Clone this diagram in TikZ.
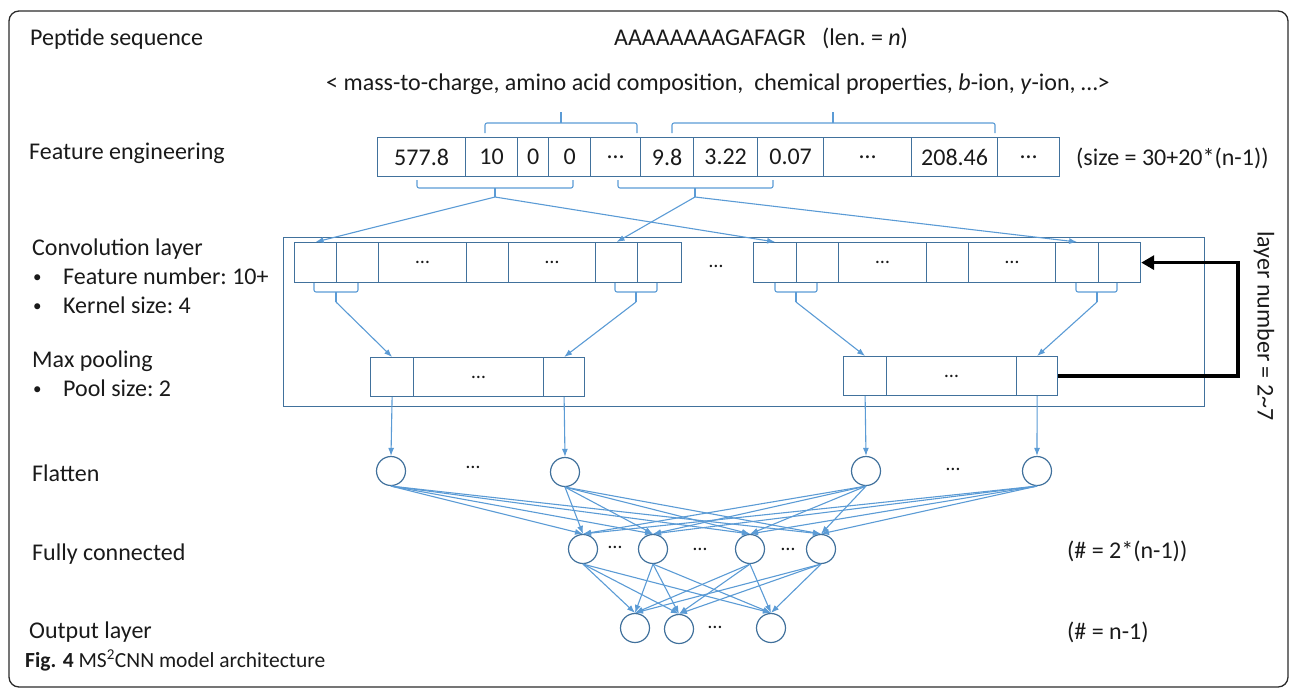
\documentclass[tikz,border=0pt]{standalone}
\usepackage{fontspec}
\setmainfont{Carlito}
\usetikzlibrary{arrows.meta}
\definecolor{boxblue}{HTML}{41719C}
\definecolor{lineblue}{HTML}{5B9BD5}
\definecolor{txt}{HTML}{1A1A1A}
\definecolor{frame}{HTML}{2B2B2B}
\newcommand\fsz{\fontsize{24}{28}\selectfont\frenchspacing}
\begin{document}
\begin{tikzpicture}[x=1pt,y=-1pt,
  lbl/.style={anchor=base west, inner sep=0, font=\fsz, text=txt},
  bul/.style={anchor=base west, inner sep=0, font=\fontsize{17}{20}\selectfont, text=txt},
  cell/.style={draw=boxblue, line width=1.2pt, inner sep=0, anchor=north west, font=\fsz, text=txt},
  dotcell/.style={cell, font=\fontsize{20}{24}\selectfont},
  conn/.style={draw=lineblue, line width=1.1pt, -{Latex[length=8pt,width=6pt]}},
  brace/.style={draw=lineblue, line width=1.1pt, rounded corners=2pt},
  neuron/.style={circle, draw=boxblue, line width=1.2pt, minimum size=29pt, inner sep=0},
  dots/.style={inner sep=0, font=\fontsize{20}{24}\selectfont, text=txt},
  fb/.style={draw=black, line width=3.5pt, -{Triangle[length=13pt,width=14pt]}},
  ]
\useasboundingbox (0,0) rectangle (1296,689);
% outer frame
\draw[frame, line width=1.3pt, rounded corners=10pt] (9,11) rectangle (1288,687);

% left labels
\node[lbl] (lpep) at (30,45) {Peptide sequence};
\node[lbl] (lfe) at (29,159) {Feature engineering};
\node[lbl] (lconv) at (32,255) {Convolution layer};
\node[bul] (b1) at (33,282) {•};
\node[lbl] (lfn) at (63,284) {Feature number: 10+};
\node[bul] (b2) at (33,311) {•};
\node[lbl] (lks) at (63,313) {Kernel size: 4};
\node[lbl] (lmp) at (32,367) {Max pooling};
\node[bul] (b3) at (33,394) {•};
\node[lbl] (lps) at (63,396) {Pool size: 2};
\node[lbl] (lfl) at (32,481) {Flatten};
\node[lbl] (lfc) at (32,560) {Fully connected};
\node[lbl] (lout) at (29,638) {Output layer};
\node[lbl, font=\fontsize{21.5}{25}\selectfont] (cap) at (25,667) {\textbf{Fig. 4} MS\textsuperscript{2}CNN model architecture};

% top texts
\node[lbl] (seq) at (614,45) {AAAAAAAAGAFAGR};
\node[lbl] (len) at (822,45) {(len. = \textit{n})};
\node[lbl] (feat) at (326,90) {< mass-to-charge, amino acid composition,\ \ chemical properties, \textit{b}-ion, \textit{y}-ion, …>};

% right texts
\node[lbl] (size) at (1076,165) {(size = 30+20*(n-1))};
\node[lbl] (nfc) at (1067,558) {(\# = 2*(n-1))};
\node[lbl] (nout) at (1067,639) {(\# = n-1)};
\node[inner sep=0, font=\fsz, text=txt, rotate=-90] (lnum) at (1264,326) {layer number = 2\textasciitilde7};

% feature row
\foreach \xa/\xb/\lab [count=\i] in {377/465/577.8, 465/517/10, 517/548/0, 548/590/0, 590/640/…, 640/693/9.8, 693/757/3.22, 757/823/0.07, 823/911/…, 911/997/208.46, 997/1059/…}
  \node[cell, minimum width={\xb pt-\xa pt}, minimum height=39pt] (f\i) at (\xa,137) {\lab};

% braces above feature row
\coordinate (u1) at (561,112);
\coordinate (u2) at (833,112);
\draw[brace] (485,133) -- (485,123) -- (637,123) -- (637,133);
\draw[brace] (561,123) -- (u1);
\draw[brace] (672,133) -- (672,123) -- (995,123) -- (995,133);
\draw[brace] (833,123) -- (u2);

% braces below feature row
\coordinate (t1) at (495,197);
\coordinate (t2) at (695,197);
\draw[brace] (417,180) -- (417,188) -- (573,188) -- (573,180);
\draw[brace] (495,188) -- (t1);
\draw[brace] (618,180) -- (618,188) -- (773,188) -- (773,180);
\draw[brace] (695,188) -- (t2);

% convolution outer box
\node[draw=boxblue, line width=1.2pt, inner sep=0, anchor=north west, minimum width=921pt, minimum height=169pt] (conv) at (283,237) {};

% conv rows
\foreach \xa/\xb/\lab [count=\i] in {294/336/{}, 336/378/{}, 378/466/…, 466/508/{}, 508/595/…, 595/637/{}, 637/681/{}}
  \node[dotcell, minimum width={\xb pt-\xa pt}, minimum height=40pt] (cl\i) at (\xa,242) {\lab};
\foreach \xa/\xb/\lab [count=\i] in {753/796/{}, 796/838/{}, 838/926/…, 926/968/{}, 968/1055/…, 1055/1098/{}, 1098/1140/{}}
  \node[dotcell, minimum width={\xb pt-\xa pt}, minimum height=40pt] (cr\i) at (\xa,242) {\lab};
\node[dots] (cdots) at (716,266) {…};

% arrows from feature braces to conv rows
\draw[conn] (t1) -- (cl1.north);
\draw[conn] (t1) -- (cr1.north);
\draw[conn] (t2) -- (cl6.north);
\draw[conn] (t2) -- (cr6.north);

% kernel braces
\coordinate (s1) at (336,302);
\coordinate (s2) at (636,302);
\coordinate (s3) at (796,302);
\coordinate (s4) at (1097,302);
\draw[brace] (314,283) -- (314,292) -- (358,292) -- (358,283);
\draw[brace] (336,292) -- (s1);
\draw[brace] (615,283) -- (615,292) -- (657,292) -- (657,283);
\draw[brace] (636,292) -- (s2);
\draw[brace] (775,283) -- (775,292) -- (817,292) -- (817,283);
\draw[brace] (796,292) -- (s3);
\draw[brace] (1076,283) -- (1076,292) -- (1117,292) -- (1117,283);
\draw[brace] (1097,292) -- (s4);

% pooling rows
\foreach \xa/\xb/\lab [count=\i] in {370/413/{}, 413/543/…, 543/584/{}}
  \node[dotcell, minimum width={\xb pt-\xa pt}, minimum height=39pt] (pl\i) at (\xa,357) {\lab};
\foreach \xa/\xb/\lab [count=\i] in {843/886/{}, 886/1016/…, 1016/1057/{}}
  \node[dotcell, minimum width={\xb pt-\xa pt}, minimum height=39pt] (pr\i) at (\xa,356) {\lab};

\draw[conn] (s1) -- (pl1.north);
\draw[conn] (s2) -- (pl3.north);
\draw[conn] (s3) -- (pr1.north);
\draw[conn] (s4) -- (pr3.north);

% feedback arrow
\draw[fb] (pr3.east) -- ++(180,0) |- (cr7.east);

% flatten
\node[neuron] (n1) at (391,471) {};
\node[neuron] (n2) at (565,472) {};
\node[neuron] (n3) at (866,471) {};
\node[neuron] (n4) at (1037,471) {};
\node[dots] (nd1) at (473,467) {…};
\node[dots] (nd2) at (953,469) {…};
\draw[conn] (pl1.south) -- (n1.north);
\draw[conn] (pl3.south) -- (n2.north);
\draw[conn] (pr1.south) -- (n3.north);
\draw[conn] (pr3.south) -- (n4.north);

% fully connected
\node[neuron] (h1) at (583,549) {};
\node[neuron] (h2) at (653,549) {};
\node[neuron] (h3) at (750,549) {};
\node[neuron] (h4) at (821,549) {};
\node[dots] (hd1) at (615,547) {…};
\node[dots] (hd2) at (700,549) {…};
\node[dots] (hd3) at (788,549) {…};

% output
\node[neuron] (o1) at (635,628) {};
\node[neuron] (o2) at (679,629) {};
\node[neuron] (o3) at (771,628) {};
\node[dots] (od1) at (715,627) {…};

\foreach \i in {1,...,4}
  \foreach \j in {1,...,4}
    \draw[conn] (n\i.south) -- (h\j.north);
\foreach \i in {1,...,4}
  \foreach \j in {1,...,3}
    \draw[conn] (h\i.south) -- (o\j.north);
\end{tikzpicture}
\end{document}
